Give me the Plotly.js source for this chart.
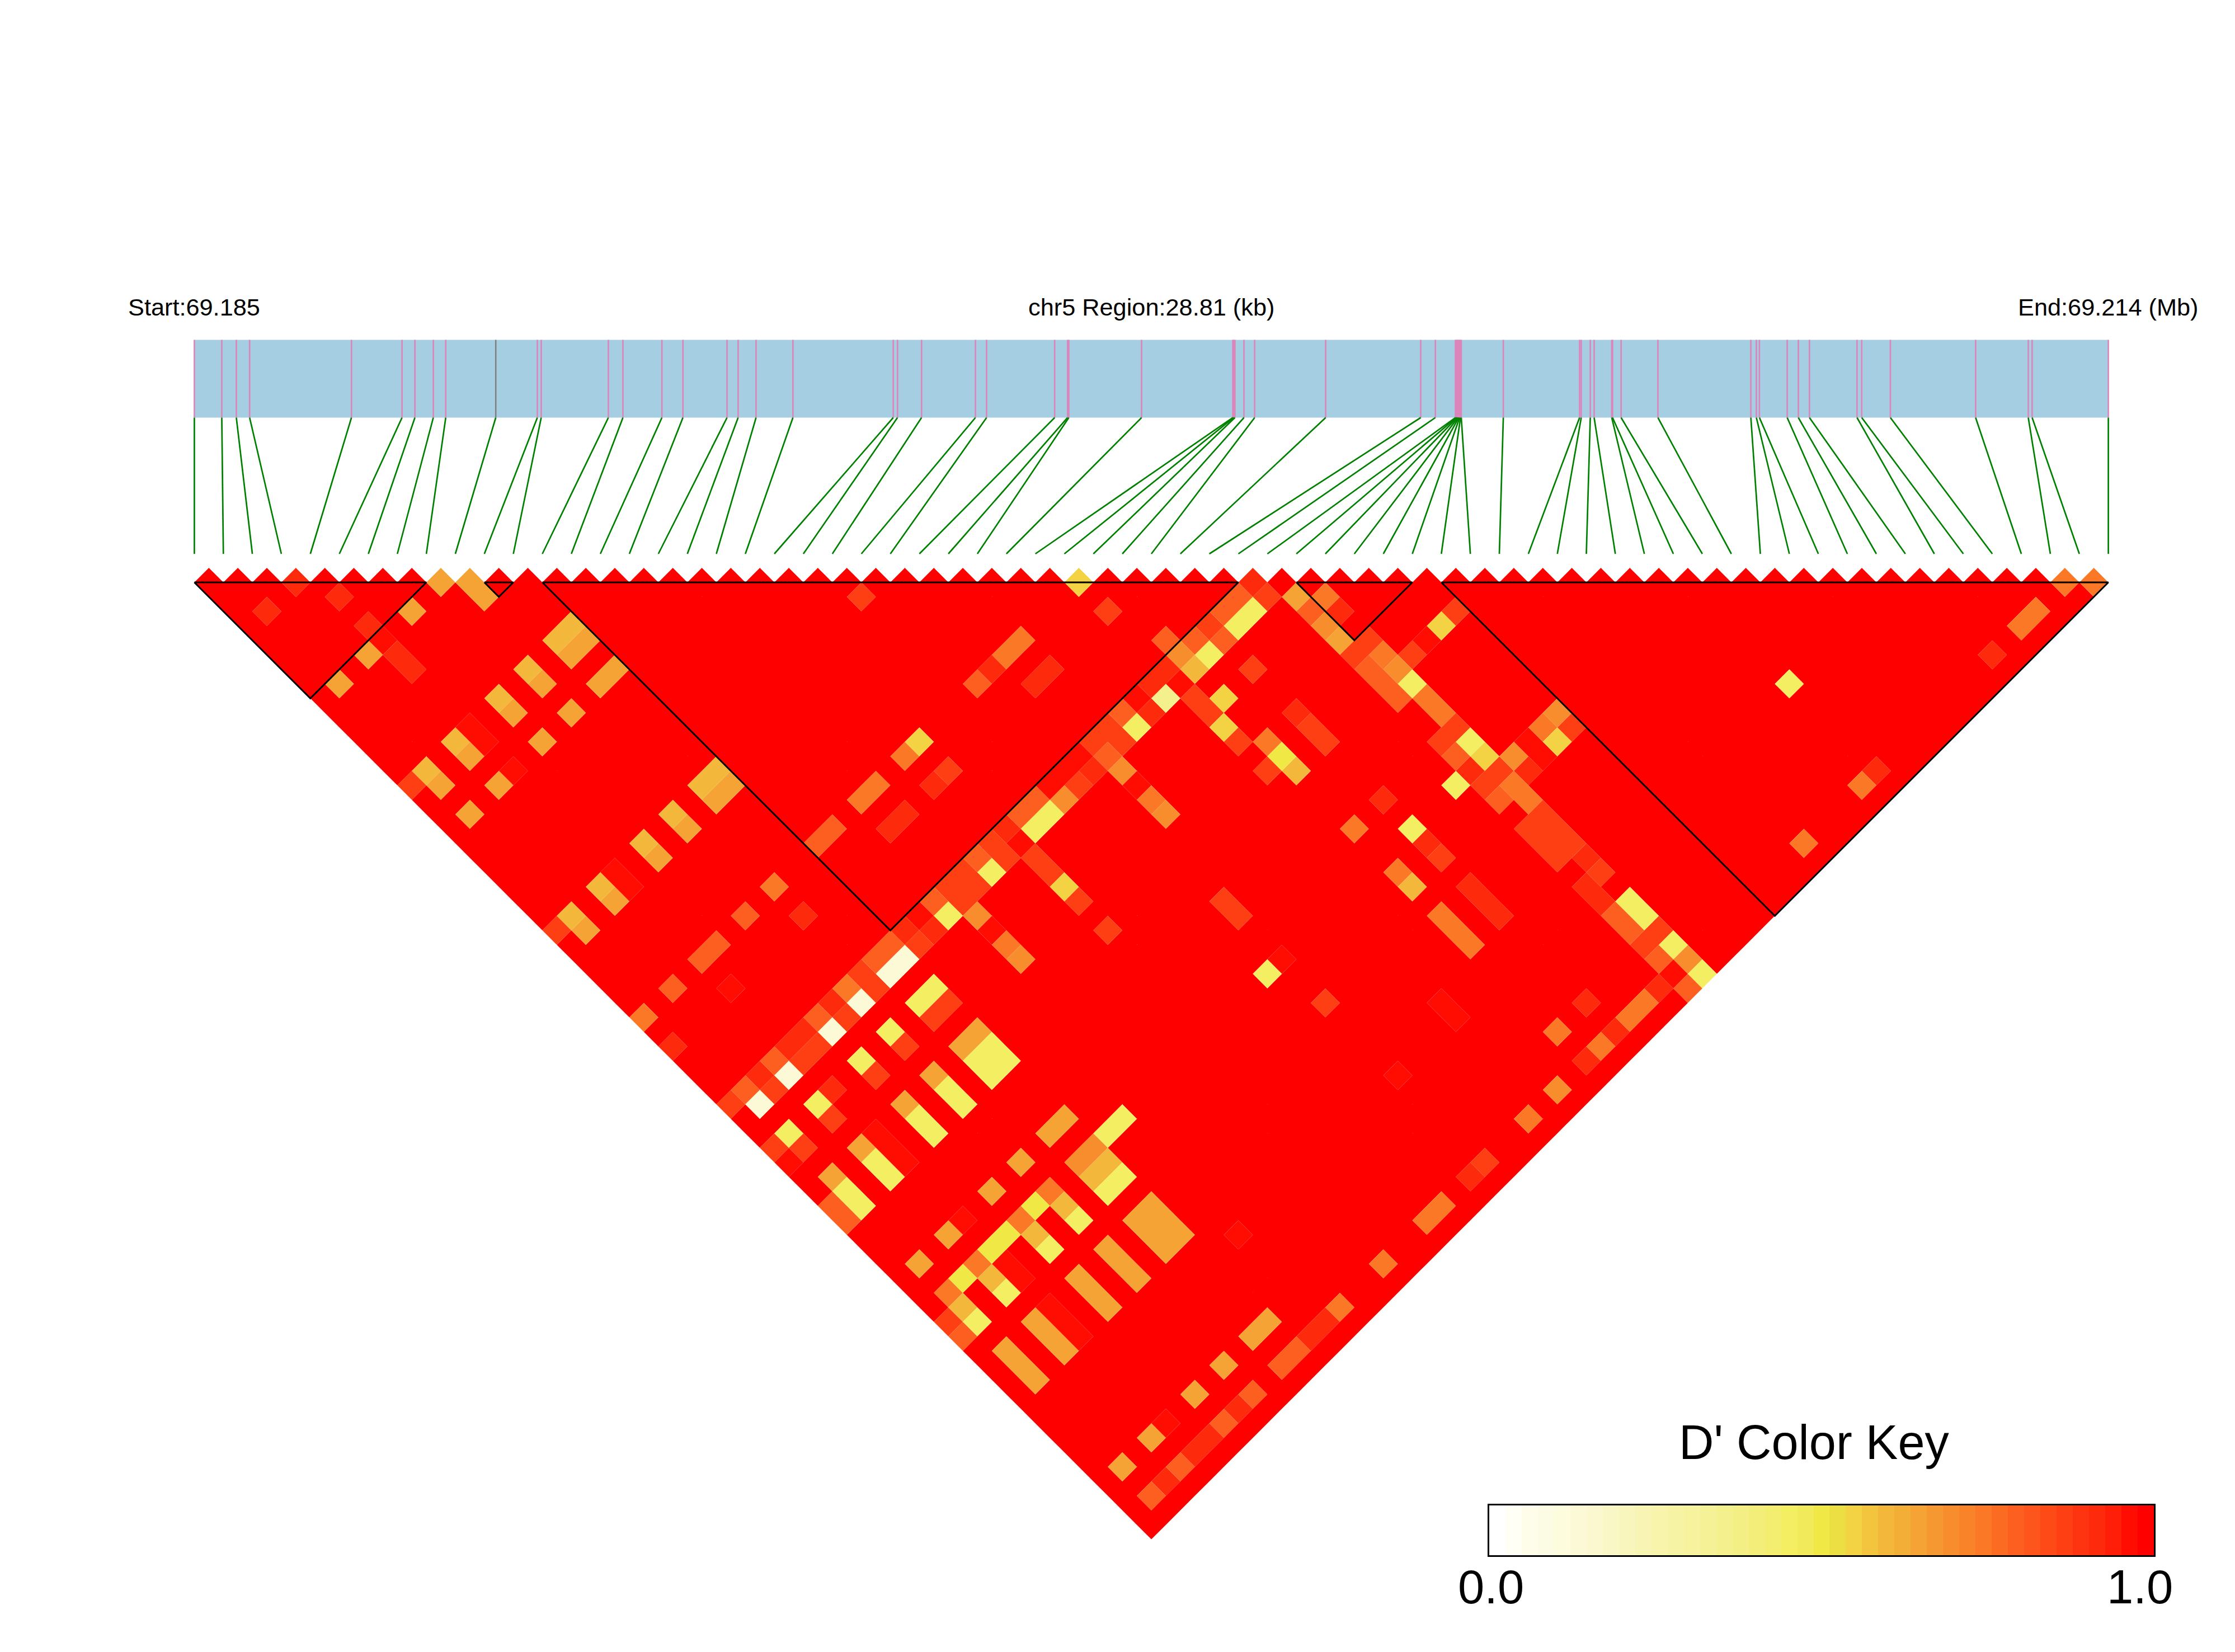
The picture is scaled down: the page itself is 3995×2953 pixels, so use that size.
<!DOCTYPE html>
<html>
<head>
<meta charset="utf-8">
<script src="https://cdn.plot.ly/plotly-3.0.1.min.js"></script>
<style>html,body{margin:0;padding:0;background:#fff}</style>
</head>
<body>
<div id="chart" style="width:3995px;height:2953px"></div>
<script>
// SNP positions along the 28.81 kb region (kb from start)
const regionKb = 28.81;
const snpKb = [0,0.413,0.632,0.832,2.365,3.126,3.320,3.597,3.784,4.537,5.163,5.221,6.232,6.451,7.038,7.354,8.018,8.185,8.455,9.010,
  10.520,10.584,10.946,11.757,11.925,12.950,13.144,13.163,14.258,15.631,15.644,15.663,15.799,15.960,17.029,18.460,18.680,
  18.982,18.994,19.007,19.020,19.032,19.045,19.058,19.070,
  19.703,20.851,20.876,21.012,21.070,21.335,21.347,21.476,22.030,23.429,23.512,23.558,23.976,24.144,24.311,25.027,25.098,25.529,26.812,27.605,27.663,28.81];
const greySnp = [9];

// LD blocks: first and last SNP index
const blockStart = [0,10,12,38,43];
const blockEnd   = [8,11,36,42,66];

// D' below 1.0; every other pair is 1.0. One row per second SNP.
const snpB = [4,6,8,9,10,11,15,16,18,24,25,26,31,33,36,37,38,39,40,41,42,43,44,45,46,47,48,49,50,51,52,53,54,55,56,57,58,59,60,61,62,63,64,65,66];
const snpA = [
[3,1],
[4],
[4],
[8,6,4,3,1],
[9,4],
[9,4],
[11,10,8,6,4,3,1,0],
[11,10,8,6,4,3,1],
[11,10,8,6,4,3,1],
[22],
[11,10,8,6,4,3,1,0],
[11,10,8,6,4,3,1],
[30,26,25,24,23,19,18,16,15,13,12,9,7,5,4,2,0],
[30,26,25,19,18,16,15,9,4,0],
[31],
[36,35,34,33,32,31,30,29,28,27,26,25,24,23,22,21,20,19,18,17,16,15,14,13,12,11,10,9,8,7,6,5,4,3,2,1,0],
[36,35,34,33,32,31,30,29,28,27,26,25,24,23,22,21,20,19,18,17,16,15,14,13,12,11,10,9,8,7,6,5,4,3,2,1],
[37,30,25,19,15],
[38,37,33,31,30,25,19,15,11,10,8,6,4,3,1,0],
[38,37,30,25,19,15,11,10,8,6,3,1,0],
[37,30,25,19,15],
[38,37,33,31,11,10,8,6,4,3,1],
[38,37,33,31,30,19,11,10,8,6,4,3,1,0],
[42,41,40,39,38,37,33,31,11,10,8,6,4,3,1,0],
[38,37],
[38,24],
[38,24],
[38,37,33,31,11,10,8,6,4,3,1],
[38,37],
[38,37,36,33,24,23,13,12,11,10,8,7,6,5,4,3,2,1],
[42,41,40,39,38,37,33,31,11,10,8,6,4,3,1,0],
[42,41,40,39,38,37,33,31,11,10,8,6,4,3,1,0],
[38,24],
[38,37,33,31,11,10,8,6,4,3,1],
[38,37,33,31,11,10,8,6,4,3,1],
[38,37,33,31,11,10,8,6,4,3,1],
[38,28],
[51,38,37,28,24,13],
[37],
[38,37],
[38,37],
[38,37,33,31,11,10,8,6,4,3,1],
[38,37],
[64,62,61,59,51,50,46,38,37,36,35,34,33,32,31,29,27,24,23,21,20,17,14,13,12,11,10,8,7,6,5,4,3,2,1],
[65,38,37]
];
const dPrime = [
[.93,.93],
[.93],
[.93],
[.65,.65,.98,.65,.65],
[.65,.93],
[.65,.93],
[.6,.6,.6,.6,.98,.6,.6,.88],
[.65,.65,.65,.65,.98,.65,.65],
[.65,.65,.65,.65,.98,.65,.65],
[.88],
[.6,.6,.6,.6,.98,.6,.6,.88],
[.65,.65,.65,.65,.98,.65,.65],
[.55,.75,.75,.93,.8,.55,.75,.75,.75,.8,.8,.75,.8,.8,.8,.8,.75],
[.88,.93,.93,.88,.93,.93,.93,.93,.98,.93],
[.8],
[.93,.8,.8,.88,.8,.7,.93,.93,.98,.8,.88,.88,.98,.98,.98,.8,.8,.93,.88,.8,.88,.88,.8,.98,.93,.8,.8,.88,.75,.93,.8,.93,.93,.8,.93,.8,.88],
[.88,.45,.45,.8,.45,.6,.98,.35,.93,.45,.88,.8,.93,.88,.7,.45,.45,.98,.88,.45,.88,.88,.45,.93,.88,.13,.13,.88,.13,.88,.13,.88,.88,.13,.88,.13],
[.65,.88,.7,.88,.7],
[.75,.8,.88,.55,.88,.98,.88,.98,.45,.45,.45,.45,.93,.45,.45,.88],
[.93,.7,.55,.75,.55,.75,.88,.88,.88,.88,.88,.88,.98],
[.65,.88,.7,.88,.7],
[.88,.88,.93,.75,.65,.65,.65,.65,.98,.65,.65],
[.75,.8,.88,.5,.88,.88,.45,.45,.45,.45,.98,.45,.45,.8],
[.88,.55,.98,.88,.7,.8,.88,.6,.45,.45,.45,.45,.98,.45,.45,.8],
[.45,.8],
[.75,.88],
[.75,.88],
[.88,.88,.93,.75,.65,.65,.65,.65,.98,.65,.65],
[.45,.8],
[.55,.93,.45,.45,.98,.45,.45,.45,.7,.7,.75,.5,.75,.5,.5,.75,.5,.75],
[.7,.75,.98,.7,.88,.88,.93,.75,.6,.6,.6,.6,.98,.6,.6,.88],
[.88,.55,.98,.93,.75,.8,.88,.6,.45,.45,.45,.45,.98,.45,.45,.8],
[.75,.88],
[.88,.88,.93,.75,.65,.65,.65,.65,.98,.65,.65],
[.88,.88,.93,.75,.65,.65,.65,.65,.98,.65,.65],
[.88,.88,.93,.75,.65,.65,.65,.65,.98,.65,.65],
[.93,.98],
[.45,.88,.93,.98,.98,.98],
[.93],
[.45,.8],
[.45,.8],
[.88,.88,.93,.75,.65,.65,.65,.65,.98,.65,.65],
[.45,.8],
[.75,.75,.75,.93,.93,.75,.75,.7,.98,.93,.75,.75,.93,.75,.93,.7,.75,.88,.93,.75,.75,.75,.75,.93,.93,.8,.8,.8,.93,.8,.93,.93,.8,.93,.8],
[.75,.45,.8]
];

// Colour key, left (0.0) to right (1.0)
const keyColors = ['#ffffff','#fffff5','#fdfdea','#fcfce4','#fdfcdc','#fcfad6','#fbf8cf','#faf7c6','#f9f6bd','#f8f5b4',
 '#f8f4ac','#f7f3a5','#f6f29d','#f5f196','#f5f08e','#f4ef84','#f3ee7a','#f3ed70','#f3ee62','#f1eb5c',
 '#f0e945','#ecdf44','#f3d243','#f3c53f','#f3b83b','#f3ae38','#f5a335','#f69831','#f78d2d','#f98329',
 '#fa7826','#fb6c22','#fc5f1f','#fd551b','#fd4a17','#fe3f13','#fe3410','#fe2a0c','#ff1f09','#ff0d02','#ff0000'];

const N = snpKb.length;
const PX_LEFT = 347.4, PX_RIGHT = 3768.6, PX_TOP = 1041, W = 3995, H = 2953;
const U = (PX_RIGHT - PX_LEFT) / (N - 1);
const mapTop = (607.5 - PX_TOP) / U, mapBottom = (746.5 - PX_TOP) / U, linkBottom = (990 - PX_TOP) / U;
const kbToX = kb => kb / regionKb * (N - 1);

// index of D' per pair
const lookup = {};
snpB.forEach((b, k) => snpA[k].forEach((a, m) => { lookup[a + '_' + b] = dPrime[k][m]; }));

const groups = {};
for (let a = 0; a < N; a++) for (let b = a + 1; b < N; b++) {
  const v = lookup[a + '_' + b];
  const lvl = Math.round((v === undefined ? 1 : v) * (keyColors.length - 1));
  const g = groups[lvl] || (groups[lvl] = {x: [], y: []});
  const cx = (a + b) / 2, cy = (b - a - 1) / 2;
  g.x.push(cx - .5, cx, cx + .5, cx, cx - .5, null);
  g.y.push(cy, cy - .5, cy, cy + .5, cy, null);
}

const traces = [];
// gene map band
traces.push({type: 'scatter', mode: 'none', fill: 'toself', fillcolor: '#a6cee3', hoverinfo: 'skip',
  x: [0, N - 1, N - 1, 0, 0], y: [mapTop, mapTop, mapBottom, mapBottom, mapTop]});
// SNP ticks
const tick = {pink: {x: [], y: []}, grey: {x: [], y: []}, green: {x: [], y: []}};
snpKb.forEach((kb, i) => {
  const x = kbToX(kb), t = greySnp.includes(i) ? tick.grey : tick.pink;
  t.x.push(x, x, null); t.y.push(mapTop, mapBottom, null);
  tick.green.x.push(x, i, null); tick.green.y.push(mapBottom, linkBottom, null);
});
const lineTrace = (d, color, width) => ({type: 'scatter', mode: 'lines', x: d.x, y: d.y, hoverinfo: 'skip',
  line: {color, width, simplify: false}});
traces.push(lineTrace(tick.pink, '#dc85bb', 2.6));
traces.push(lineTrace(tick.grey, '#808080', 2.6));
traces.push(lineTrace(tick.green, '#008000', 2.7));
// LD cells, red first
Object.keys(groups).map(Number).sort((p, q) => q - p).forEach(l => {
  traces.push({type: 'scatter', mode: 'none', fill: 'toself', fillcolor: keyColors[l], hoverinfo: 'skip',
    x: groups[l].x, y: groups[l].y, line: {simplify: false}});
});
// block outlines
const bx = [], by = [];
blockStart.forEach((s, k) => {
  const e = blockEnd[k];
  bx.push(s, e, (s + e) / 2, s, null); by.push(0, 0, (e - s) / 2, 0, null);
});
traces.push({type: 'scatter', mode: 'lines', x: bx, y: by, hoverinfo: 'skip',
  line: {color: '#000', width: 3, simplify: false}});
// colour key
traces.push({type: 'heatmap', xaxis: 'x2', yaxis: 'y2', z: [keyColors.map((c, i) => i)], showscale: false,
  zmin: 0, zmax: keyColors.length - 1, hoverinfo: 'skip',
  colorscale: keyColors.map((c, i) => [i / (keyColors.length - 1), c])});

const font = s => ({family: '"Liberation Sans", Arial, sans-serif', size: s, color: '#000'});
const labelY = (549 - PX_TOP) / U;
const note = (text, x, y, xref, yref, size) => ({text, x, y, xref, yref, showarrow: false,
  xanchor: 'center', yanchor: 'middle', font: font(size)});

const layout = {
  width: W, height: H, margin: {l: 0, r: 0, t: 0, b: 0}, paper_bgcolor: '#fff', plot_bgcolor: 'rgba(0,0,0,0)',
  showlegend: false,
  xaxis: {range: [-PX_LEFT / U, (W - PX_LEFT) / U], visible: false, fixedrange: true},
  yaxis: {range: [(H - PX_TOP) / U, -PX_TOP / U], visible: false, fixedrange: true},
  xaxis2: {domain: [2662 / W, 3850 / W], range: [-.5, keyColors.length - .5], anchor: 'y2', showgrid: false, zeroline: false,
    showticklabels: false, ticks: '', showline: true, mirror: true, linecolor: '#000', linewidth: 3, fixedrange: true},
  yaxis2: {domain: [1 - 2780 / H, 1 - 2691 / H], range: [-.5, .5], anchor: 'x2', showgrid: false, zeroline: false,
    showticklabels: false, ticks: '', showline: true, mirror: true, linecolor: '#000', linewidth: 3, fixedrange: true},
  annotations: [
    note('Start:69.185', 0, labelY, 'x', 'y', 43.3),
    note('chr5 Region:28.81 (kb)', (N - 1) / 2, labelY, 'x', 'y', 43.3),
    note('End:69.214 (Mb)', N - 1, labelY, 'x', 'y', 43.3),
    note("D' Color Key", 3243 / W, 1 - 2578 / H, 'paper', 'paper', 86.5),
    note('0.0', 2665 / W, 1 - 2836 / H, 'paper', 'paper', 85),
    note('1.0', 3825 / W, 1 - 2836 / H, 'paper', 'paper', 85)
  ]
};
Plotly.newPlot('chart', traces, layout, {displayModeBar: false, responsive: false});
</script>
</body>
</html>
